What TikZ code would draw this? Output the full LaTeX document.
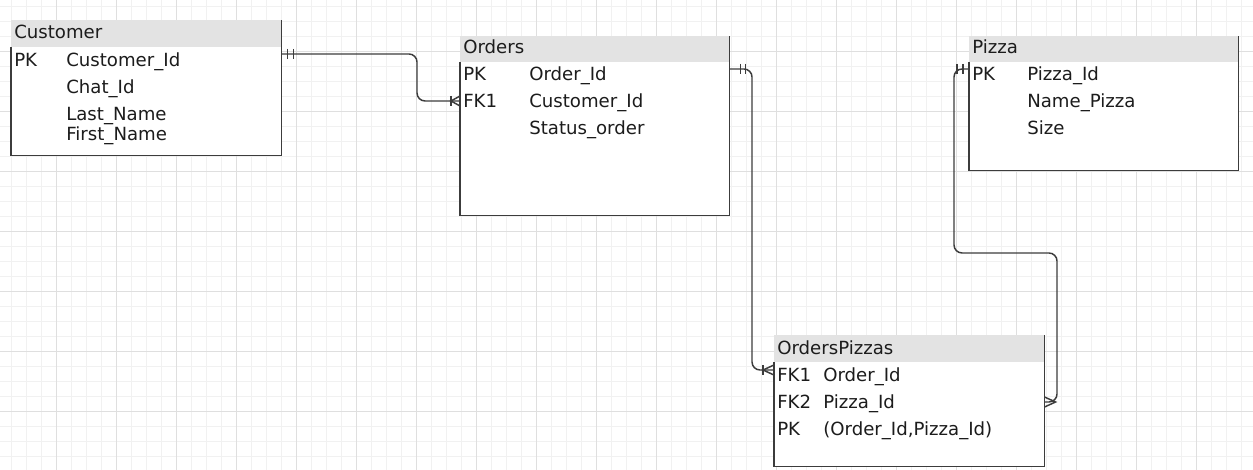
\documentclass[tikz,border=0pt]{standalone}
\usepackage{fontspec}
\setmainfont{DejaVu Sans}
\usetikzlibrary{calc}
\definecolor{hdr}{HTML}{E3E3E3}
\definecolor{edgec}{HTML}{3C3C3C}
\definecolor{gmin}{HTML}{F1F1F1}
\definecolor{gmaj}{HTML}{DFDFDF}
\definecolor{txt}{HTML}{1C1C1C}
\begin{document}
\begin{tikzpicture}[x=0.75pt,y=-0.75pt,
  lbl/.style={anchor=base west,inner sep=0pt,font=\fontsize{13.6}{15}\selectfont,text=txt},
  hdrbox/.style={fill=hdr,draw=none,inner sep=0pt,anchor=north west},
  bodybox/.style={fill=white,draw=none,inner sep=0pt,anchor=north west},
  boxedge/.style={draw=edgec,line width=1.4pt},
  conn/.style={draw=edgec,line width=1.1pt,rounded corners=6pt},
  tk/.style={draw=edgec,line width=1.1pt},
  gridmin/.style={draw=gmin,line width=0.5pt},
  gridmaj/.style={draw=gmaj,line width=0.6pt}]
\useasboundingbox (0,0) rectangle (1253,470);
\fill[white] (0,0) rectangle (1253,470);
% grid
\foreach \x in {11,26,...,1252} \draw[gridmin] (\x,0) -- (\x,470);
\foreach \y in {6,21,...,470} \draw[gridmin] (0,\y) -- (1253,\y);
\foreach \x in {56,116,...,1252} \draw[gridmaj] (\x,0) -- (\x,470);
\foreach \y in {51,111,...,470} \draw[gridmaj] (0,\y) -- (1253,\y);

% Customer
\node[hdrbox,minimum width=202.5pt,minimum height=20.25pt] (custhdr) at (11,20) {};
\node[bodybox,minimum width=202.5pt,minimum height=81pt] (custbody) at (11,47) {};
\draw[boxedge] (custbody.north west) -- (custbody.south west) -- (custbody.south east) -- (custhdr.north east);
\node[lbl] (custT) at (14,39) {Customer};
\node[lbl] (custk1) at (14,67) {PK};
\node[lbl] (custf1) at (66,67) {Customer\_Id};
\node[lbl] (custf2) at (66,94) {Chat\_Id};
\node[lbl] (custf3) at (66,121) {Last\_Name};
\node[lbl] (custf4) at (66,141) {First\_Name};

% Orders
\node[hdrbox,minimum width=201.75pt,minimum height=19.5pt] (ordhdr) at (460,36) {};
\node[bodybox,minimum width=201.75pt,minimum height=114.75pt] (ordbody) at (460,62) {};
\draw[boxedge] (ordbody.north west) -- (ordbody.south west) -- (ordbody.south east) -- (ordhdr.north east);
\node[lbl] (ordT) at (463,54) {Orders};
\node[lbl] (ordk1) at (463,81) {PK};
\node[lbl] (ordk2) at (463,108) {FK1};
\node[lbl] (ordf1) at (529,81) {Order\_Id};
\node[lbl] (ordf2) at (529,108) {Customer\_Id};
\node[lbl] (ordf3) at (529,135) {Status\_order};

% Pizza
\node[hdrbox,minimum width=201.75pt,minimum height=19.5pt] (pizhdr) at (969,36) {};
\node[bodybox,minimum width=201.75pt,minimum height=81pt] (pizbody) at (969,62) {};
\draw[boxedge] (pizbody.north west) -- (pizbody.south west) -- (pizbody.south east) -- (pizhdr.north east);
\node[lbl] (pizT) at (972,54) {Pizza};
\node[lbl] (pizk1) at (972,81) {PK};
\node[lbl] (pizf1) at (1027,81) {Pizza\_Id};
\node[lbl] (pizf2) at (1027,108) {Name\_Pizza};
\node[lbl] (pizf3) at (1027,135) {Size};

% OrdersPizzas
\node[hdrbox,minimum width=202.5pt,minimum height=20.25pt] (ophdr) at (774,335) {};
\node[bodybox,minimum width=202.5pt,minimum height=78pt] (opbody) at (774,362) {};
\draw[boxedge] (opbody.north west) -- (opbody.south west) -- (opbody.south east) -- (ophdr.north east);
\node[lbl] (opT) at (777,354) {OrdersPizzas};
\node[lbl] (opk1) at (777,381) {FK1};
\node[lbl] (opk2) at (777,408) {FK2};
\node[lbl] (opk3) at (777,435) {PK};
\node[lbl] (opf1) at (823,381) {Order\_Id};
\node[lbl] (opf2) at (823,408) {Pizza\_Id};
\node[lbl] (opf3) at (823,435) {(Order\_Id,Pizza\_Id)};

% connector end points
\coordinate (a1) at (custbody.east |- 0,54);
\coordinate (a2) at (ordbody.west |- 0,101);
\coordinate (b1) at (ordbody.east |- 0,69);
\coordinate (b2) at (opbody.west |- 0,370);
\coordinate (p1) at (pizbody.west |- 0,69);
\coordinate (p2) at (opbody.east |- 0,402);

% Customer -> Orders
\draw[conn] (a1) -| (417,101) -- (a2);
\draw[tk] ($(a1)+(6,-5)$) -- ++(0,10);
\draw[tk] ($(a1)+(12,-5)$) -- ++(0,10);
\draw[tk] ($(a2)+(-9,-5)$) -- ++(0,10);
\draw[tk] ($(a2)+(0,-5)$) -- ($(a2)+(-9,0)$) -- ($(a2)+(0,5)$);

% Orders -> OrdersPizzas
\draw[conn] (b1) -| (752,370) -- (b2);
\draw[tk] ($(b1)+(11,-5)$) -- ++(0,10);
\draw[tk] ($(b1)+(16,-5)$) -- ++(0,10);
\draw[tk] ($(b2)+(-11,-5)$) -- ++(0,10);
\draw[tk] ($(b2)+(0,-5)$) -- ($(b2)+(-11,0)$) -- ($(b2)+(0,5)$);

% Pizza -> OrdersPizzas
\draw[conn] (p1) -| (954,253) -| (1057,402) -- (p2);
\draw[tk] ($(p1)+(-6,-5)$) -- ++(0,10);
\draw[tk] ($(p1)+(-12,-5)$) -- ++(0,10);
\draw[tk] ($(p2)+(0,-5)$) -- ($(p2)+(11,0)$) -- ($(p2)+(0,5)$);
\end{tikzpicture}
\end{document}
